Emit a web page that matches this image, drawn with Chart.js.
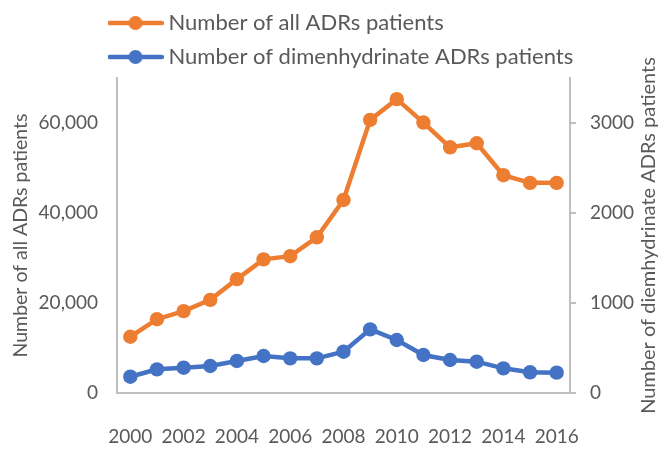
<!DOCTYPE html>
<html>
<head>
<meta charset="utf-8">
<script src="https://cdn.jsdelivr.net/npm/chart.js@4/dist/chart.umd.min.js"></script>
<style>
  html, body { margin: 0; padding: 0; background: #ffffff; }
  #wrap { width: 659px; height: 450px; }
</style>
</head>
<body>
<div id="wrap"><canvas id="c" width="659" height="450"></canvas></div>
<script>
const years = ['2000','2001','2002','2003','2004','2005','2006','2007','2008','2009','2010','2011','2012','2013','2014','2015','2016'];
const allADRs = [12500, 16400, 18200, 20700, 25300, 29700, 30400, 34600, 42900, 60700, 65300, 60100, 54600, 55500, 48400, 46700, 46700];
const dimenADRs = [181, 263, 281, 300, 356, 411, 385, 385, 459, 707, 589, 422, 367, 348, 274, 230, 226];
const leftTicks = [0, 20000, 40000, 60000];
const rightTicks = [0, 1000, 2000, 3000];
const seriesNames = ['Number of all ADRs patients', 'Number of dimenhydrinate ADRs patients'];
const leftTitle = 'Number of all ADRs patients';
const rightTitle = 'Number of diemhydrinate ADRs patients';

const ORANGE = '#ED7D31';
const BLUE = '#4472C4';
const TEXT = '#595959';
const AXIS = '#BFBFBF';
const FONT = 'Lato';

Chart.defaults.font.family = FONT;
Chart.defaults.color = TEXT;

function makeMarker(color) {
  const cv = document.createElement('canvas');
  cv.width = 56; cv.height = 16;
  const g = cv.getContext('2d');
  g.strokeStyle = color; g.lineWidth = 4.5; g.lineCap = 'round';
  g.beginPath(); g.moveTo(2, 8); g.lineTo(54, 8); g.stroke();
  g.fillStyle = color;
  g.beginPath(); g.arc(28, 8, 7, 0, Math.PI * 2); g.fill();
  return cv;
}
const markers = [makeMarker(ORANGE), makeMarker(BLUE)];

const legendShift = {
  id: 'legendShift',
  beforeDraw(chart) {
    const lg = chart.legend;
    if (!lg) return;
    const w = lg.width, h = lg.height;
    lg.left = 101.5; lg.right = 101.5 + w;
    lg.top = 0; lg.bottom = h;
  }
};

const rightTitleUp = {
  id: 'rightTitleUp',
  afterDraw(chart) {
    const s = chart.scales.y1;
    const ctx = chart.ctx;
    const ca = chart.chartArea;
    ctx.save();
    ctx.font = '20px ' + FONT;
    ctx.fillStyle = TEXT;
    ctx.textAlign = 'center';
    ctx.textBaseline = 'middle';
    ctx.translate(s.right - 10, (ca.top + ca.bottom) / 2);
    ctx.rotate(-Math.PI / 2);
    ctx.fillText(rightTitle, 0, 0);
    ctx.restore();
  }
};

new Chart(document.getElementById('c'), {
  type: 'line',
  data: {
    labels: years,
    datasets: [
      {
        label: seriesNames[0],
        data: allADRs,
        yAxisID: 'y',
        borderColor: ORANGE,
        backgroundColor: ORANGE,
        pointBackgroundColor: ORANGE,
        pointBorderColor: ORANGE,
        borderWidth: 4.5,
        pointRadius: 7.2,
        pointBorderWidth: 0,
        tension: 0,
        clip: false
      },
      {
        label: seriesNames[1],
        data: dimenADRs,
        yAxisID: 'y1',
        borderColor: BLUE,
        backgroundColor: BLUE,
        pointBackgroundColor: BLUE,
        pointBorderColor: BLUE,
        borderWidth: 4.5,
        pointRadius: 7.2,
        pointBorderWidth: 0,
        tension: 0,
        clip: false
      }
    ]
  },
  options: {
    responsive: false,
    animation: false,
    layout: { padding: { left: 5, right: 0, top: 0, bottom: 0 } },
    plugins: {
      tooltip: { enabled: false },
      legend: {
        position: 'top',
        align: 'start',
        labels: {
          usePointStyle: true,
          pointStyleWidth: 44,
          padding: 12,
          color: TEXT,
          font: { size: 22, family: FONT },
          generateLabels(chart) {
            const items = Chart.defaults.plugins.legend.labels.generateLabels(chart);
            items.forEach((it, i) => { it.pointStyle = markers[i]; it.lineWidth = 0; });
            return items;
          }
        }
      }
    },
    scales: {
      x: {
        type: 'category',
        offset: true,
        afterFit(scale) { scale.height = 57; },
        grid: { display: false, drawTicks: false },
        border: { display: true, color: AXIS, width: 2 },
        ticks: {
          autoSkip: false,
          maxRotation: 0,
          minRotation: 0,
          padding: 32,
          color: TEXT,
          font: { size: 19, family: FONT },
          callback(v, i) { return i % 2 === 0 ? this.getLabelForValue(v) : ''; }
        }
      },
      y: {
        type: 'linear',
        position: 'left',
        min: 0,
        max: 70000,
        afterBuildTicks(scale) { scale.ticks = leftTicks.map(v => ({ value: v })); },
        afterFit(scale) { scale.width = 112; },
        grid: { display: false, drawTicks: false },
        border: { display: true, color: AXIS, width: 2 },
        ticks: {
          padding: 19,
          color: TEXT,
          font: { size: 19, family: FONT },
          callback(v) { return v.toLocaleString('en-US'); }
        },
        title: {
          display: true,
          text: leftTitle,
          color: TEXT,
          font: { size: 19.5, family: FONT },
          padding: { top: 4, bottom: 4 }
        }
      },
      y1: {
        type: 'linear',
        position: 'right',
        min: 0,
        max: 3500,
        afterBuildTicks(scale) { scale.ticks = rightTicks.map(v => ({ value: v })); },
        afterFit(scale) { scale.width = 89; },
        grid: { display: true, drawOnChartArea: false, drawTicks: true, tickLength: 6, color: AXIS, lineWidth: 2 },
        border: { display: true, color: AXIS, width: 2 },
        ticks: {
          padding: 14,
          color: TEXT,
          font: { size: 19, family: FONT },
          callback(v) { return String(v); }
        },
        title: {
          display: true,
          text: rightTitle,
          color: 'rgba(0,0,0,0)',
          font: { size: 20, family: FONT },
          padding: { top: 4, bottom: 4 }
        }
      }
    }
  },
  plugins: [legendShift, rightTitleUp]
});
</script>
</body>
</html>
